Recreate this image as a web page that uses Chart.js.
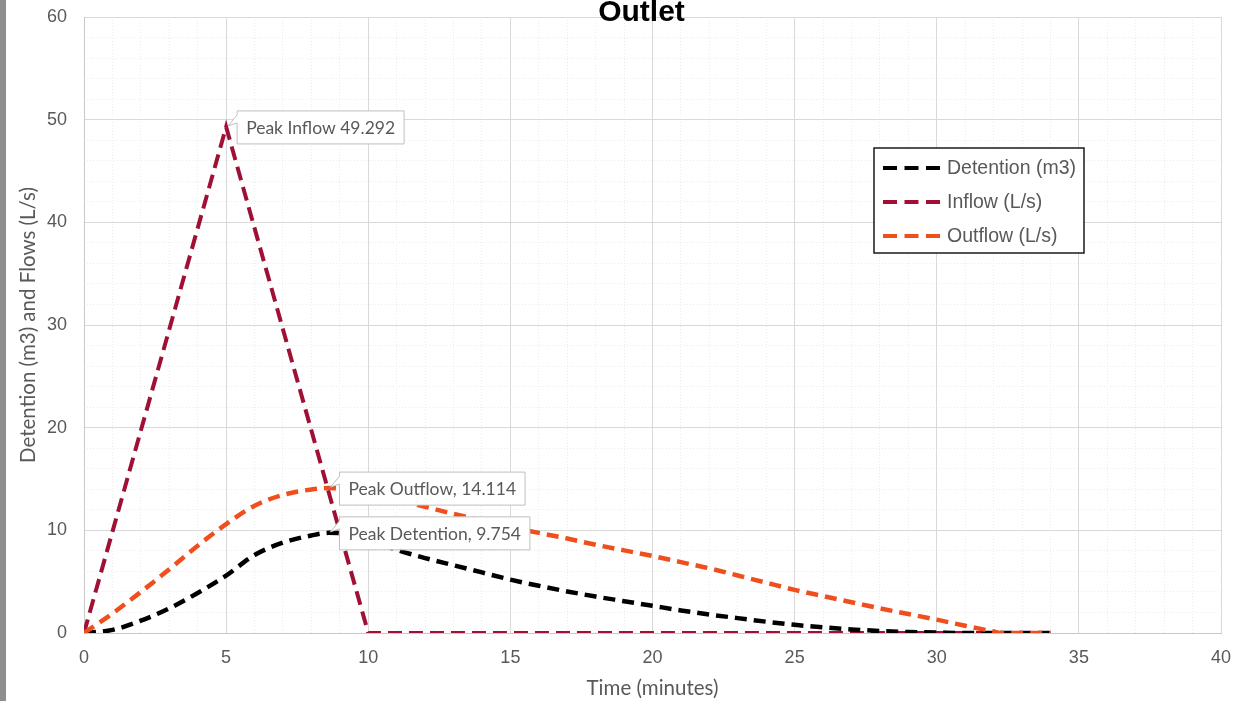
<!DOCTYPE html>
<html>
<head>
<meta charset="utf-8">
<title>Outlet</title>
<script src="https://cdn.jsdelivr.net/npm/chart.js@4.4.1/dist/chart.umd.min.js"></script>
<style>
    html, body { margin: 0; padding: 0; background: #fff; }
    #wrap { position: relative; width: 1234px; height: 701px; overflow: hidden; }
    #edge { position: absolute; left: 0; top: 0; width: 6px; height: 701px; background: #8e8e8e; }
</style>
</head>
<body>
<div id="wrap">
    <canvas id="chart" width="1234" height="701"></canvas>
    <div id="edge"></div>
</div>
<script>
// Hydrograph for the outlet: time in minutes
const inflowTime = [0, 5, 10, 34];
const inflowValues = [0, 49.292, 0, 0];

const detentionTime = [0, 1, 2, 3, 4, 5, 6, 7, 8, 8.6, 9, 10, 11, 12, 13, 14, 15, 16, 17, 18, 19, 20, 21, 22, 23, 24, 25, 26, 27, 28, 29, 30, 31, 34];
const detentionValues = [0, 0.3, 1.2, 2.4, 3.9, 5.6, 7.6, 8.8, 9.5, 9.754, 9.72, 9.1, 8.1, 7.3, 6.6, 5.9, 5.2, 4.6, 4.05, 3.55, 3.1, 2.65, 2.2, 1.8, 1.45, 1.1, 0.8, 0.55, 0.35, 0.2, 0.1, 0.05, 0, 0];

const outflowTime = [0, 1, 2, 3, 4, 5, 6, 7, 8, 8.6, 9, 10, 11, 12, 13, 14, 15, 16, 17, 18, 19, 20, 21, 22, 23, 24, 25, 26, 27, 28, 29, 30, 31, 32, 32.3, 34];
const outflowValues = [0, 1.9, 4.0, 6.2, 8.5, 10.6, 12.4, 13.45, 13.98, 14.114, 14.08, 13.65, 13.0, 12.3, 11.6, 10.95, 10.3, 9.75, 9.2, 8.6, 8.05, 7.5, 6.9, 6.3, 5.6, 4.9, 4.2, 3.6, 3.0, 2.4, 1.85, 1.3, 0.7, 0.15, 0, 0];

const xTicks = [0, 5, 10, 15, 20, 25, 30, 35, 40];
const yTicks = [0, 10, 20, 30, 40, 50, 60];

const GREY_TEXT = '#595959';

const toPoints = (times, values) => times.map((t, i) => ({ x: t, y: values[i] }));

function peakOf(times, values) {
    let best = 0;
    values.forEach((v, i) => { if (v > values[best]) best = i; });
    return { x: times[best], y: values[best] };
}

const callouts = [
    { peak: peakOf(inflowTime, inflowValues), text: v => `Peak Inflow ${v}` },
    { peak: peakOf(outflowTime, outflowValues), text: v => `Peak Outflow, ${v}` },
    { peak: peakOf(detentionTime, detentionValues), text: v => `Peak Detention, ${v}` }
];

// chart heading, overlapping the top edge of the plot a little
const heading = {
    id: 'heading',
    afterDraw(chart) {
        const { ctx } = chart;
        ctx.save();
        ctx.font = 'bold 30px "Liberation Sans"';
        ctx.fillStyle = '#000000';
        ctx.textAlign = 'center';
        ctx.textBaseline = 'alphabetic';
        ctx.fillText('Outlet', 641.5, 21);
        ctx.restore();
    }
};

// white data callouts with a small wedge pointing back at the peak
const peakLabels = {
    id: 'peakLabels',
    afterDatasetsDraw(chart) {
        const { ctx, scales: { x, y } } = chart;
        ctx.save();
        ctx.font = '17.5px Lato';
        ctx.textBaseline = 'middle';
        callouts.forEach(c => {
            const px = x.getPixelForValue(c.peak.x);
            const py = y.getPixelForValue(c.peak.y);
            const label = c.text(c.peak.y);
            const w = ctx.measureText(label).width + 18;
            const h = 33;
            const left = px + 11;
            const top = py - 16;
            ctx.beginPath();
            ctx.moveTo(left, top);
            ctx.lineTo(left + w, top);
            ctx.lineTo(left + w, top + h);
            ctx.lineTo(left, top + h);
            ctx.lineTo(left, top + 12);
            ctx.lineTo(px + 2, py - 1);
            ctx.lineTo(left, top + 4);
            ctx.closePath();
            ctx.fillStyle = '#ffffff';
            ctx.fill();
            ctx.strokeStyle = '#bfbfbf';
            ctx.lineWidth = 1;
            ctx.stroke();
            ctx.fillStyle = GREY_TEXT;
            ctx.fillText(label, left + 9, top + h / 2 + 1);
        });
        ctx.restore();
    }
};

// boxed legend sitting inside the plot, top right
const boxLegend = {
    id: 'boxLegend',
    afterDraw(chart) {
        const { ctx } = chart;
        const bx = 874, by = 148, bw = 210, bh = 105;
        ctx.save();
        ctx.fillStyle = '#ffffff';
        ctx.fillRect(bx, by, bw, bh);
        ctx.strokeStyle = '#1a1a1a';
        ctx.lineWidth = 1.5;
        ctx.strokeRect(bx, by, bw, bh);
        ctx.font = '19.5px "Liberation Sans"';
        ctx.textBaseline = 'middle';
        chart.data.datasets.forEach((ds, i) => {
            const rowY = by + 20 + i * 34;
            ctx.beginPath();
            ctx.setLineDash([14, 7.5]);
            ctx.strokeStyle = ds.borderColor;
            ctx.lineWidth = 4;
            ctx.moveTo(bx + 9, rowY);
            ctx.lineTo(bx + 66, rowY);
            ctx.stroke();
            ctx.setLineDash([]);
            ctx.fillStyle = GREY_TEXT;
            ctx.fillText(ds.label, bx + 73, rowY + 1);
        });
        ctx.restore();
    }
};

new Chart(document.getElementById('chart'), {
    type: 'line',
    data: {
        datasets: [
            {
                label: 'Detention (m3)',
                data: toPoints(detentionTime, detentionValues),
                borderColor: '#000000',
                borderWidth: 4.5,
                borderDash: [12, 7],
                cubicInterpolationMode: 'monotone',
                pointRadius: 0,
                order: 1
            },
            {
                label: 'Inflow (L/s)',
                data: toPoints(inflowTime, inflowValues),
                borderColor: '#a01035',
                borderWidth: 4,
                borderDash: [14, 7],
                tension: 0,
                pointRadius: 0,
                order: 2
            },
            {
                label: 'Outflow (L/s)',
                data: toPoints(outflowTime, outflowValues),
                borderColor: '#f04e1c',
                borderWidth: 4.5,
                borderDash: [12, 7],
                cubicInterpolationMode: 'monotone',
                pointRadius: 0,
                order: 0
            }
        ]
    },
    options: {
        responsive: false,
        animation: false,
        layout: { padding: { left: 0, right: 13, top: 17, bottom: 0 } },
        plugins: {
            legend: { display: false },
            tooltip: { enabled: false }
        },
        scales: {
            // faint minor grid
            xMinor: {
                type: 'linear', position: 'bottom', min: 0, max: 40,
                ticks: { display: false, stepSize: 1 },
                grid: { color: '#ececec', drawTicks: false },
                border: { display: false, dash: [1, 2] },
                afterFit: s => { s.height = 0; }
            },
            yMinor: {
                type: 'linear', position: 'left', min: 0, max: 60,
                ticks: { display: false, stepSize: 2 },
                grid: { color: '#ececec', drawTicks: false },
                border: { display: false, dash: [1, 2] },
                afterFit: s => { s.width = 0; }
            },
            x: {
                type: 'linear', min: 0, max: 40,
                afterBuildTicks: s => { s.ticks = xTicks.map(v => ({ value: v })); },
                ticks: { color: GREY_TEXT, padding: 14, font: { family: '"Liberation Sans"', size: 18 } },
                grid: { color: '#d9d9d9', drawTicks: false },
                border: { color: '#c8c8c8' },
                title: {
                    display: true, text: 'Time (minutes)', color: GREY_TEXT,
                    font: { family: 'Lato', size: 20.5, lineHeight: 1.2 },
                    padding: { top: 0, bottom: 0 }
                },
                // fixed band height; the end labels fit inside the layout padding
                afterFit: s => { s.height = 68; s.paddingLeft = 0; s.paddingRight = 0; }
            },
            y: {
                type: 'linear', min: 0, max: 60,
                afterBuildTicks: s => { s.ticks = yTicks.map(v => ({ value: v })); },
                ticks: { color: GREY_TEXT, padding: 17, font: { family: '"Liberation Sans"', size: 18 } },
                grid: { color: '#d9d9d9', drawTicks: false },
                border: { color: '#c8c8c8' },
                title: {
                    display: true, text: 'Detention (m3) and Flows (L/s)', color: GREY_TEXT,
                    font: { family: 'Lato', size: 20.5, lineHeight: 1.2 },
                    padding: { top: 15.7, bottom: 0 }
                },
                afterFit: s => { s.width = 84; s.paddingTop = 0; s.paddingBottom = 0; }
            }
        }
    },
    plugins: [peakLabels, boxLegend, heading]
});
</script>
</body>
</html>
